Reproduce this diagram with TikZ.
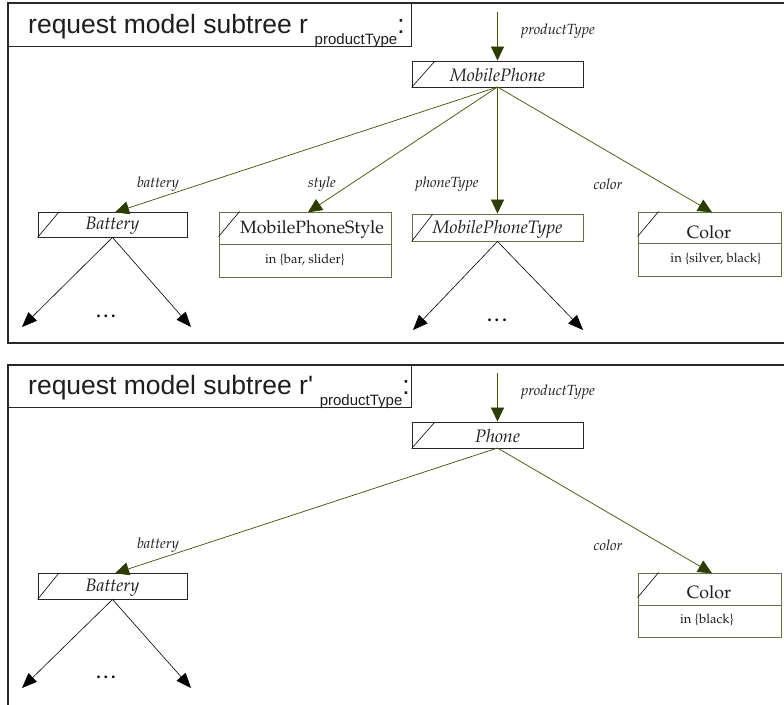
\documentclass[tikz,border=0pt]{standalone}
\usepackage[T1]{fontenc}
\usepackage{fontspec}
\setsansfont{Liberation Sans}
\usetikzlibrary{arrows.meta}
\definecolor{edgeol}{RGB}{64,80,0}
\definecolor{headol}{RGB}{45,60,0}
\definecolor{boxol}{RGB}{105,112,70}
\definecolor{frameg}{RGB}{40,40,40}
\definecolor{txtg}{RGB}{30,30,30}
\newcommand\mydots{.\hspace{3pt}.\hspace{3pt}.}
\tikzset{
  frame/.style={draw=frameg, line width=1.3pt},
  boxk/.style={draw=black!85, line width=0.9pt, minimum width=#1, inner sep=0pt},
  boxo/.style={draw=boxol, line width=0.9pt, minimum width=#1, inner sep=0pt},
  ntexti/.style={font=\fontencoding{T1}\fontfamily{ppl}\fontshape{it}\fontsize{18}{21}\selectfont, text=txtg, inner sep=0pt},
  ntextu/.style={font=\fontencoding{T1}\fontfamily{ppl}\fontshape{n}\fontsize{17.8}{21}\selectfont, text=txtg, inner sep=0pt},
  attr/.style={font=\fontencoding{T1}\fontfamily{ppl}\fontshape{n}\fontsize{13}{15}\selectfont, text=txtg, inner sep=0pt},
  elabel/.style={font=\fontencoding{T1}\fontfamily{ppl}\fontshape{it}\fontsize{14.7}{17}\selectfont, text=txtg, inner sep=0pt},
  oedge/.style={draw=edgeol, line width=0.7pt, -{Triangle[length=14pt,width=13pt,fill=headol,color=headol]}},
  kedge/.style={draw=black, line width=0.6pt, -{Triangle[length=15pt,width=12pt]}},
  slash/.style={draw=black, line width=0.6pt},
  dots/.style={font=\fontencoding{T1}\fontfamily{ppl}\fontseries{b}\fontshape{n}\fontsize{18}{20}\selectfont, inner sep=0pt},
  title/.style={font=\sffamily\fontsize{26.5}{30}\selectfont, text=txtg, inner sep=0pt, anchor=base west},
}
\begin{document}
\begin{tikzpicture}[x=1pt,y=-1pt]
\useasboundingbox (0,0) rectangle (784,704);
\clip (0,0) rectangle (784,704);
\fill[white] (0,0) rectangle (784,704);
% ---------- top panel ----------
\draw[frame] (8,3) rectangle (800,343);
\draw[frame, line width=1pt] (8,3) rectangle (411,46);
\node[title] (t1) at (28,33) {request model subtree r\raisebox{-11pt}{\fontsize{15}{17}\selectfont\, productType}:};

\coordinate (in1) at (497.5,12);
\node[boxk=171pt, minimum height=26pt] (mp) at (497.5,74) {};
\node[ntexti] (mpt) at (497.5,75) {MobilePhone};
\draw[slash] (mp.south west) -- ++(23,-26);
\draw[oedge] (in1) -- (mp.north);
\node[elabel] (lpt1) at (558,31) {productType};

\node[boxk=149pt, minimum height=25pt] (bat1) at (112.5,224.5) {};
\node[ntexti] (bat1t) at (112.5,226) {Battery};
\draw[slash] (bat1.south west) -- ++(21,-25);

\node[boxo=172pt, minimum height=32pt] (st) at (305,228) {};
\node[boxo=172pt, minimum height=33pt, anchor=north] (stv) at (st.south) {};
\node[ntextu] (stt) at (312,230) {MobilePhoneStyle};
\node[attr] (stvt) at (305,260) {in \{bar, slider\}};
\draw[slash] (st.north west) ++(0,25) -- ++(21,-25);

\node[boxo=171pt, minimum height=27pt] (pty) at (497.5,227.5) {};
\node[ntexti] (ptyt) at (497.5,229) {MobilePhoneType};
\draw[slash] (pty.south west) -- ++(21,-27);

\node[boxo=143pt, minimum height=31pt] (col1) at (709.5,227.5) {};
\node[boxo=143pt, minimum height=33pt, anchor=north] (col1v) at (col1.south) {};
\node[ntextu] (col1t) at (709,232) {Color};
\node[attr] (col1vt) at (716,259) {in \{silver, black\}};
\draw[slash] (col1.north west) ++(0,25) -- ++(21,-25);

\coordinate (mpb) at (497.5,87);
\draw[oedge] (mpb) -- (115,212.3) coordinate (e1);
\draw[oedge] (mpb) -- (308,212.3) coordinate (e2);
\draw[oedge] (mpb) -- (pty.north);
\draw[oedge] (mpb) -- (712,212.3) coordinate (e4);
\node[elabel] (lb1) at (158,184) {battery};
\node[elabel] (ls1) at (322,184) {style};
\node[elabel] (lp1) at (447,184) {phoneType};
\node[elabel] (lc1) at (608,184) {color};

\coordinate (b1l) at (22,327);
\coordinate (b1r) at (191,327);
\draw[kedge] (bat1.south) -- (b1l);
\draw[kedge] (bat1.south) -- (b1r);
\node[dots] (d1) at (106,316) {\mydots};
\coordinate (p1l) at (413,330);
\coordinate (p1r) at (583,330);
\draw[kedge] (pty.south) -- (p1l);
\draw[kedge] (pty.south) -- (p1r);
\node[dots] (d2) at (497,320) {\mydots};

% ---------- bottom panel ----------
\draw[frame] (8,365) rectangle (800,720);
\draw[frame, line width=1pt] (8,365) rectangle (411,407);
\node[title] (t2) at (28,394) {request model subtree r\textquotesingle\raisebox{-11pt}{\fontsize{15}{17}\selectfont\, productType}:};

\coordinate (in2) at (497.5,373);
\node[boxk=171pt, minimum height=26pt] (ph) at (497.5,435) {};
\node[ntexti] (pht) at (497.5,436) {Phone};
\draw[slash] (ph.south west) -- ++(23,-26);
\draw[oedge] (in2) -- (ph.north);
\node[elabel] (lpt2) at (558,392) {productType};

\node[boxk=149pt, minimum height=26pt] (bat2) at (112.5,586) {};
\node[ntexti] (bat2t) at (112.5,587.5) {Battery};
\draw[slash] (bat2.south west) -- ++(21,-26);

\node[boxo=143pt, minimum height=32pt] (col2) at (709.5,589) {};
\node[boxo=143pt, minimum height=32pt, anchor=north] (col2v) at (col2.south) {};
\node[ntextu] (col2t) at (709,592) {Color};
\node[attr] (col2vt) at (707,620) {in \{black\}};
\draw[slash] (col2.north west) ++(0,25) -- ++(21,-25);

\coordinate (phb) at (497.5,448);
\draw[oedge] (phb) -- (115,573.3) coordinate (f1);
\draw[oedge] (phb) -- (712,573.3) coordinate (f2);
\node[elabel] (lb2) at (158,545) {battery};
\node[elabel] (lc2) at (608,545) {color};

\coordinate (b2l) at (22,688);
\coordinate (b2r) at (191,688);
\draw[kedge] (bat2.south) -- (b2l);
\draw[kedge] (bat2.south) -- (b2r);
\node[dots] (d3) at (106,677) {\mydots};
\end{tikzpicture}
\end{document}
